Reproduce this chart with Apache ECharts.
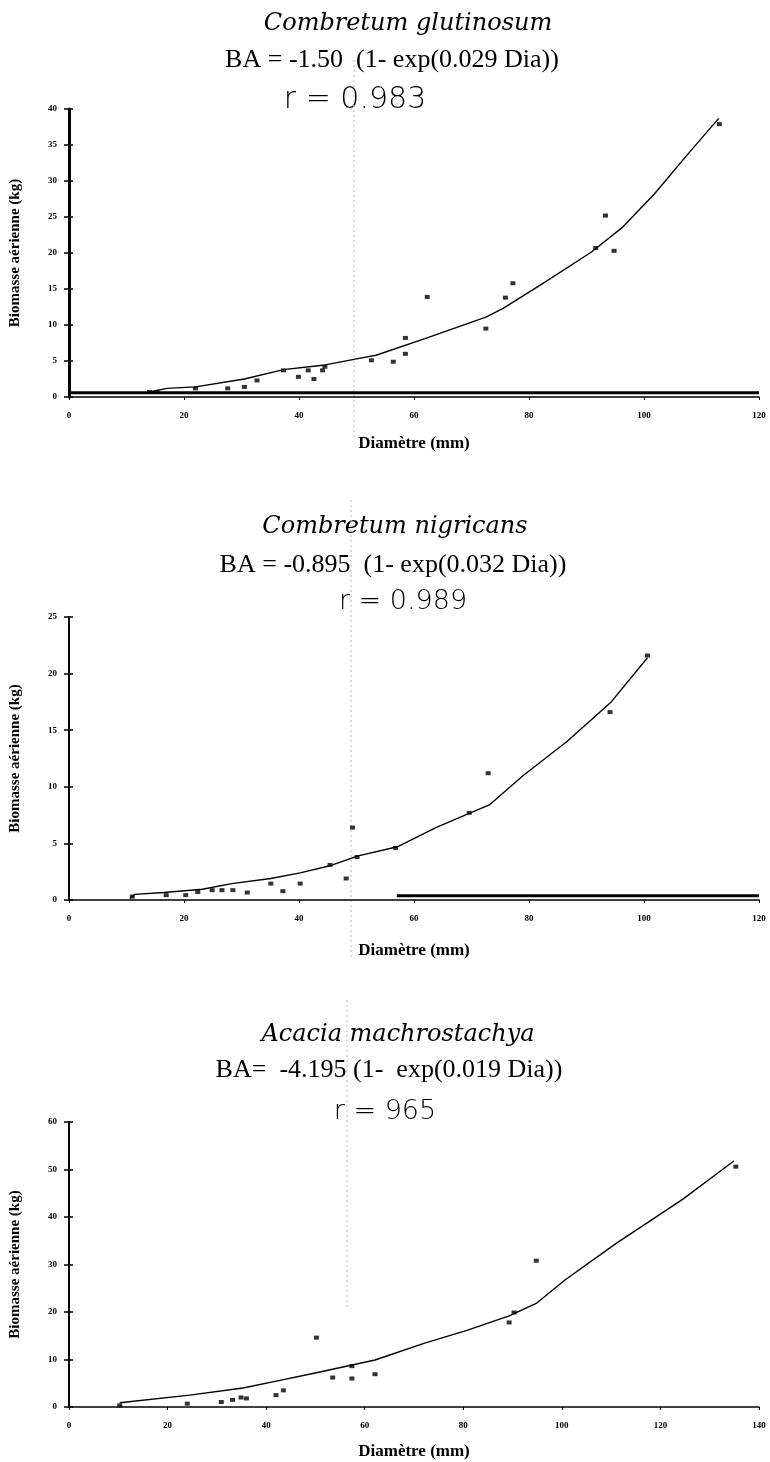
<!DOCTYPE html>
<html>
<head>
<meta charset="utf-8">
<script src="https://cdn.jsdelivr.net/npm/echarts@6/dist/echarts.min.js"></script>
<style>
  html, body { margin: 0; padding: 0; background: #fff; }
  #chart { width: 770px; height: 1462px; }
</style>
</head>
<body>
<div id="chart"></div>
<script>
// Combretum glutinosum
const glutDia = [14.0, 15.3, 22.0, 27.6, 30.5, 32.7, 37.3, 39.9, 41.6, 42.6, 44.1, 44.5, 52.6, 56.4, 58.5, 58.5, 62.3, 72.5, 75.9, 77.2, 91.6, 93.3, 94.8, 113.1];
const glutBio = [0.7, 0.7, 1.2, 1.2, 1.4, 2.3, 3.7, 2.8, 3.7, 2.5, 3.7, 4.2, 5.1, 4.9, 6.0, 8.2, 13.9, 9.5, 13.8, 15.8, 20.7, 25.2, 20.3, 37.9];
const glutFitDia = [14, 17, 22, 30.5, 37.3, 44.1, 50, 53.4, 61.9, 72.5, 75.5, 82.3, 90.8, 96.3, 101.8, 107.7, 113];
const glutFitBio = [0.7, 1.2, 1.4, 2.5, 3.8, 4.4, 5.3, 5.8, 8.1, 11.1, 12.3, 15.7, 20.1, 23.6, 28.2, 33.8, 38.7];
const glutBaseDia = [0, 120];
const glutBaseBio = [0.6, 0.6];

// Combretum nigricans
const nigrDia = [11.0, 16.9, 20.3, 22.4, 24.9, 26.6, 28.5, 31.0, 35.1, 37.2, 40.2, 45.4, 48.2, 49.3, 50.1, 56.8, 69.6, 72.9, 94.1, 100.6];
const nigrBio = [0.3, 0.43, 0.43, 0.7, 0.87, 0.87, 0.87, 0.66, 1.45, 0.78, 1.45, 3.1, 1.9, 6.4, 3.8, 4.6, 7.7, 11.2, 16.6, 21.6];
const nigrFitDia = [10.6, 11.4, 16.5, 23.2, 28.3, 35.1, 40.2, 45.2, 50.3, 57.1, 63.8, 69.8, 73.1, 79.0, 86.6, 94.3, 100.6];
const nigrFitBio = [0.14, 0.5, 0.66, 0.95, 1.45, 1.9, 2.4, 3.0, 3.9, 4.7, 6.4, 7.7, 8.4, 11.0, 14.0, 17.5, 21.4];
const nigrBaseDia = [57, 120];
const nigrBaseBio = [0.38, 0.38];

// Acacia machrostachya
const acacDia = [10.3, 24.0, 30.9, 33.2, 34.9, 36.0, 42.0, 43.5, 50.2, 53.5, 57.4, 57.4, 62.1, 89.3, 90.3, 94.8, 135.3];
const acacBio = [0.35, 0.7, 1.05, 1.5, 2.0, 1.8, 2.5, 3.5, 14.6, 6.2, 6.0, 8.6, 6.9, 17.8, 19.9, 30.8, 50.6];
const acacFitDia = [10.3, 24.5, 35.3, 42.3, 50.2, 62.1, 72, 80.9, 89.3, 94.8, 100.7, 111.1, 124.5, 134.9];
const acacFitBio = [0.9, 2.5, 4.0, 5.5, 7.2, 9.9, 13.4, 16.2, 19.2, 21.8, 26.8, 34.5, 43.7, 51.8];

const titles = ['Combretum glutinosum', 'Combretum nigricans', 'Acacia machrostachya'];
const equations = ['BA = -1.50  (1- exp(0.029 Dia))', 'BA = -0.895  (1- exp(0.032 Dia))', 'BA=  -4.195 (1-  exp(0.019 Dia))'];
const rTexts = ['r = 0.983', 'r = 0.989', 'r = 965'];

const zip = (a, b) => a.map((v, i) => [v, b[i]]);

const serif = 'Liberation Serif, DejaVu Serif, serif';
const tickFont = { fontFamily: serif, fontWeight: 'bold', fontSize: 9, color: '#000' };
const nameFont = { fontFamily: serif, fontWeight: 'bold', fontSize: 15, color: '#000' };
const xNameFont = { fontFamily: serif, fontWeight: 'bold', fontSize: 17, color: '#000' };

const grids = [
    { left: 64, right: 11, top: 109, height: 288 },
    { left: 64, right: 11, top: 617, height: 283 },
    { left: 64, right: 11, top: 1122, height: 285 }
];

function xAx(i, max, gap) {
    return {
        type: 'value', gridIndex: i, min: 0, max: max, interval: 20,
        name: 'Diamètre (mm)', nameLocation: 'middle', nameGap: gap, nameTextStyle: xNameFont,
        axisLine: { lineStyle: { color: '#000', width: 1.5 } },
        axisTick: { show: true, length: 3, lineStyle: { color: '#000' } },
        axisLabel: Object.assign({ margin: 14 }, tickFont),
        splitLine: { show: false }
    };
}
function yAx(i, max, interval, w) {
    return {
        type: 'value', gridIndex: i, min: 0, max: max, interval: interval,
        name: 'Biomasse aérienne (kg)', nameLocation: 'middle', nameGap: 46, nameTextStyle: nameFont,
        axisLine: { show: true, lineStyle: { color: '#000', width: w } },
        axisTick: { show: true, length: 5, lineStyle: { color: '#000', width: 1.5 } },
        axisLabel: Object.assign({ margin: 12 }, tickFont),
        splitLine: { show: false }
    };
}
// inner half of the crossing tick marks
function yInner(i, max, interval) {
    return {
        type: 'value', gridIndex: i, min: 0, max: max, interval: interval, position: 'left',
        axisLine: { show: false },
        axisTick: { show: true, inside: true, length: 4, lineStyle: { color: '#000', width: 1.5 } },
        axisLabel: { show: false },
        splitLine: { show: false }
    };
}

function pts(i, d) {
    return { type: 'scatter', xAxisIndex: i, yAxisIndex: i, data: d, symbol: 'rect', symbolSize: [5, 4],
             itemStyle: { color: '#000' }, z: 5 };
}
function fit(i, d) {
    return { type: 'line', xAxisIndex: i, yAxisIndex: i, data: d, showSymbol: false,
             lineStyle: { color: '#000', width: 1.4 }, z: 4 };
}
function base(i, d, w) {
    return { type: 'line', xAxisIndex: i, yAxisIndex: i, data: d, showSymbol: false,
             lineStyle: { color: '#000', width: w }, z: 3 };
}

const titleY = [24, 527, 1035];
const eqY = [60, 565, 1070];
const rY = [100, 602, 1112];
const titleX = [408, 395, 398];
const eqX = [392, 393, 389];
const rX = [355, 403, 385];
const rSize = [30, 27, 27];

const graphics = [];
for (let i = 0; i < 3; i++) {
    graphics.push({ type: 'text', x: titleX[i], y: titleY[i],
        style: { text: titles[i], fontFamily: 'DejaVu Serif, serif', fontStyle: 'italic', fontSize: 24, fill: '#000', align: 'center', verticalAlign: 'middle' } });
    graphics.push({ type: 'text', x: eqX[i], y: eqY[i],
        style: { text: equations[i], fontFamily: serif, fontSize: 26, fill: '#000', align: 'center', verticalAlign: 'middle' } });
    graphics.push({ type: 'text', x: rX[i], y: rY[i],
        style: { text: rTexts[i], fontFamily: 'DejaVu Sans, sans-serif', fontWeight: 200, fontSize: rSize[i], fill: '#000', align: 'center', verticalAlign: 'middle' } });
}
// faint fold line from the scanned page
[[354, 60, 440], [351, 500, 960], [347, 1000, 1310]].forEach(function (s) {
    graphics.push({ type: 'line', shape: { x1: s[0], y1: s[1], x2: s[0], y2: s[2] },
        style: { stroke: '#bbb', lineWidth: 1, lineDash: [2, 3] }, z: 0 });
});

const chart = echarts.init(document.getElementById('chart'));
chart.setOption({
    backgroundColor: '#fff',
    animation: false,
    grid: grids,
    xAxis: [xAx(0, 120, 38), xAx(1, 120, 42), xAx(2, 140, 36)],
    yAxis: [yAx(0, 40, 5, 3), yAx(1, 25, 5, 2), yAx(2, 60, 10, 2),
            yInner(0, 40, 5), yInner(1, 25, 5), yInner(2, 60, 10)],
    graphic: graphics,
    series: [
        base(0, zip(glutBaseDia, glutBaseBio), 3),
        fit(0, zip(glutFitDia, glutFitBio)),
        pts(0, zip(glutDia, glutBio)),
        base(1, zip(nigrBaseDia, nigrBaseBio), 3),
        fit(1, zip(nigrFitDia, nigrFitBio)),
        pts(1, zip(nigrDia, nigrBio)),
        fit(2, zip(acacFitDia, acacFitBio)),
        pts(2, zip(acacDia, acacBio))
    ]
});
</script>
</body>
</html>
